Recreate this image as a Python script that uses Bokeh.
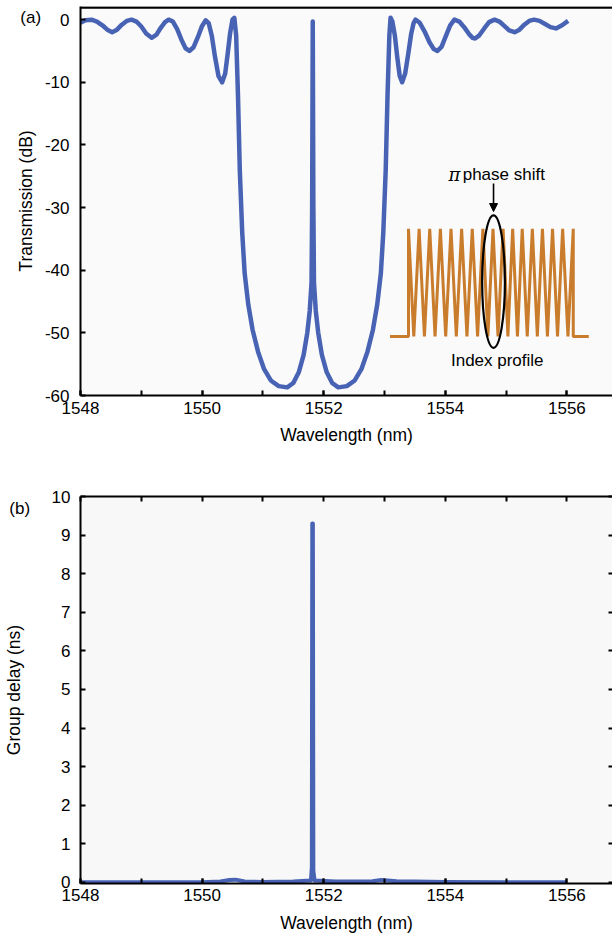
from bokeh.plotting import figure
from bokeh.models import (Range1d, LinearAxis, SingleIntervalTicker,
                          Label, Arrow, NormalHead, PrintfTickFormatter)
from bokeh.layouts import column
from bokeh.embed import file_html
from bokeh.resources import INLINE

FONT = "Liberation Sans"
BLUE = "#4863b4"
ORANGE = "#c97d2c"

# ---------------- data ----------------
# (a) transmission spectrum
wl_t = [1548.00, 1548.08, 1548.18, 1548.27, 1548.36, 1548.44, 1548.52, 1548.60,
        1548.68, 1548.76, 1548.84, 1548.92, 1549.00, 1549.08, 1549.17, 1549.25,
        1549.32, 1549.39, 1549.45, 1549.52, 1549.59, 1549.66, 1549.73, 1549.79,
        1549.86, 1549.93, 1550.00, 1550.06, 1550.11, 1550.16, 1550.21, 1550.27,
        1550.33, 1550.38, 1550.42, 1550.46, 1550.50, 1550.53, 1550.56, 1550.59,
        1550.62, 1550.66, 1550.70, 1550.76, 1550.83, 1550.92, 1551.02, 1551.13,
        1551.26, 1551.40, 1551.50, 1551.59, 1551.67, 1551.73, 1551.77, 1551.800,
        1551.810, 1551.815, 1551.820, 1551.825, 1551.830, 1551.840, 1551.87, 1551.91,
        1551.97, 1552.05, 1552.14, 1552.24, 1552.38, 1552.51, 1552.62, 1552.72,
        1552.81, 1552.88, 1552.94, 1552.98, 1553.02, 1553.05, 1553.08, 1553.10,
        1553.13, 1553.17, 1553.21, 1553.25, 1553.29, 1553.34, 1553.39, 1553.44,
        1553.48, 1553.51, 1553.58, 1553.66, 1553.74, 1553.81, 1553.87, 1553.94,
        1554.01, 1554.08, 1554.15, 1554.23, 1554.31, 1554.39, 1554.45, 1554.49,
        1554.56, 1554.64, 1554.72, 1554.81, 1554.89, 1554.97, 1555.05, 1555.14,
        1555.22, 1555.30, 1555.38, 1555.46, 1555.55, 1555.64, 1555.73, 1555.82,
        1555.92, 1556.02]
trans_db = [-0.5, -0.1, 0.0, -0.3, -0.9, -1.6, -2.0, -1.6,
            -0.8, -0.2, 0.0, -0.3, -1.1, -2.2, -2.9, -2.4,
            -1.3, -0.4, 0.0, -0.3, -1.5, -3.2, -4.6, -5.0,
            -4.4, -2.8, -1.0, -0.1, -0.6, -2.6, -5.8, -9.0,
            -10.0, -8.6, -5.5, -2.2, 0.0, 0.3, -2.5, -12.0,
            -24.0, -34.0, -40.5, -45.5, -49.5, -53.0, -55.8, -57.6,
            -58.5, -58.7, -58.0, -56.3, -53.5, -50.0, -46.5, -42.0,
            -30.0, -15.0, -0.3, -15.0, -30.0, -42.0, -46.5, -50.0,
            -53.5, -56.3, -58.0, -58.7, -58.5, -57.6, -55.8, -53.0,
            -49.5, -45.5, -40.5, -34.0, -24.0, -12.0, -2.5, 0.3,
            -0.3, -2.5, -6.0, -9.0, -10.0, -8.6, -5.5, -2.2,
            -0.5, 0.0, -0.5, -1.9, -3.6, -4.7, -5.0, -4.3,
            -2.6, -0.9, 0.0, -0.3, -1.2, -2.3, -2.9, -3.0,
            -2.5, -1.4, -0.4, 0.0, -0.3, -1.0, -1.7, -2.0,
            -1.6, -0.8, -0.2, 0.0, -0.2, -0.7, -1.2, -1.4,
            -0.9, -0.2]

# (b) group delay
wl_g = [1548.0, 1549.0, 1550.0, 1550.3, 1550.45, 1550.55, 1550.7, 1551.0,
        1551.5, 1551.79, 1551.805, 1551.812, 1551.822, 1551.83, 1551.85, 1552.2,
        1552.8, 1552.95, 1553.05, 1553.2, 1553.5, 1554.0, 1555.0, 1556.0]
delay_ns = [0.0, 0.0, 0.0, 0.02, 0.06, 0.07, 0.02, 0.01,
            0.02, 0.05, 0.4, 9.3, 9.3, 0.3, 0.05, 0.02,
            0.03, 0.06, 0.05, 0.03, 0.02, 0.01, 0.0, 0.0]

# inset: schematic index profile (grating position in periods, normalised index)
grating_z = [-1.74, 0.0, 0.0, 0.5, 1.0, 1.5, 2.0, 2.5, 3.0, 3.5, 4.0, 4.5, 5.0,
             5.5, 6.0, 6.5, 7.0, 7.47, 7.95, 8.42, 8.9, 9.35, 9.8, 10.25, 10.7,
             11.17, 11.65, 12.12, 12.6, 13.07, 13.55, 14.02, 14.5, 15.0, 15.5,
             15.5, 16.96]
index_n = [0, 0, 1, 0, 1, 0, 1, 0, 1, 0, 1, 0, 1,
           0, 1, 0, 1, 0, 1, 0, 1, 0, 1, 0, 1,
           0, 1, 0, 1, 0, 1, 0, 1, 0, 1,
           0, 0]

x_ticks_major = 2
y_ticks_a = 10
y_ticks_b = 1


def base_axis(ax, font_size="17px"):
    ax.axis_line_color = "black"
    ax.axis_line_width = 2
    ax.major_tick_line_color = "black"
    ax.major_tick_line_width = 2
    ax.minor_tick_line_color = "black"
    ax.minor_tick_line_width = 2
    ax.major_label_text_font = FONT
    ax.major_label_text_font_size = font_size
    ax.major_label_text_color = "black"
    ax.axis_label_text_font = FONT
    ax.axis_label_text_font_size = "17.5px"
    ax.axis_label_text_font_style = "normal"
    ax.axis_label_text_color = "black"


def blank_axis(ax):
    ax.major_label_text_font_size = "0px"
    ax.major_label_standoff = 0
    ax.axis_label_standoff = 0


# ---------------- (a) ----------------
pa = figure(width=612, height=470, x_range=Range1d(1548, 1556.75),
            y_range=Range1d(-60, 2.1), output_backend="svg", toolbar_location=None,
            min_border_left=74, min_border_right=0, min_border_top=6,
            min_border_bottom=75, background_fill_color="#fafafa",
            border_fill_color="white")
pa.outline_line_color = None
pa.xgrid.visible = False
pa.ygrid.visible = False

xa = pa.xaxis[0]
base_axis(xa)
xa.ticker = SingleIntervalTicker(interval=x_ticks_major, num_minor_ticks=2)
xa.formatter = PrintfTickFormatter(format="%d")
xa.major_tick_in = 5
xa.major_tick_out = 0
xa.minor_tick_in = 5
xa.minor_tick_out = 0
xa.major_label_standoff = 6
xa.axis_label = "Wavelength (nm)"
xa.axis_label_standoff = 8

ya = pa.yaxis[0]
base_axis(ya)
ya.ticker = SingleIntervalTicker(interval=y_ticks_a, num_minor_ticks=0)
ya.formatter = PrintfTickFormatter(format="%d")
ya.major_tick_in = 5
ya.major_tick_out = 0
ya.minor_tick_in = 0
ya.minor_tick_out = 0
ya.major_label_standoff = 11
ya.axis_label = "Transmission (dB)"
ya.axis_label_standoff = 6

# top border of panel (a): a horizontal span glyph just inside the frame top
pa.hspan(y=[pa.y_range.end - 0.2], line_color="black", line_width=2.5)

pa.line(wl_t, trans_db, line_color=BLUE, line_width=4.5, line_join="round")

# inset (own coordinate system)
pa.extra_x_ranges = {"ix": Range1d(-30.85, 19.19)}
pa.extra_y_ranges = {"iy": Range1d(-0.548, 3.064)}
pa.line(grating_z, index_n, line_color=ORANGE, line_width=3,
        x_range_name="ix", y_range_name="iy")
pa.ellipse(x=[8.0], y=[0.51], width=2.14, height=1.23, fill_color=None,
           line_color="black", line_width=2.2, x_range_name="ix", y_range_name="iy")
pa.add_layout(Arrow(x_start=8.0, y_start=1.42, x_end=8.0, y_end=1.16,
                    x_range_name="ix", y_range_name="iy", line_width=1.6,
                    line_color="black",
                    end=NormalHead(size=8, fill_color="black", line_color="black")))
pa.add_layout(Label(x=4.31, y=1.50, x_range_name="ix", y_range_name="iy",
                    text="π", text_font="DejaVu Serif", text_font_style="italic",
                    text_font_size="18px", text_align="center",
                    text_baseline="middle", text_color="black"))
pa.add_layout(Label(x=5.1, y=1.50, x_range_name="ix", y_range_name="iy",
                    text="phase shift", text_font=FONT, text_font_size="17px",
                    text_align="left", text_baseline="middle", text_color="black"))
pa.add_layout(Label(x=8.35, y=-0.22, x_range_name="ix", y_range_name="iy",
                    text="Index profile", text_font=FONT, text_font_size="17px",
                    text_align="center", text_baseline="middle", text_color="black"))
# panel tag: kept in a side panel (not clipped to the frame), drawn at data position
pa.add_layout(Label(x=1547.01, y=0.35, text="(a)", text_font=FONT,
                    text_font_size="17px", text_align="left",
                    text_baseline="middle", text_color="black"), "below")

# ---------------- (b) ----------------
pb = figure(width=612, height=471, x_range=Range1d(1548, 1556.75),
            y_range=Range1d(-0.03, 10), output_backend="svg", toolbar_location=None,
            min_border_left=75, min_border_right=0, min_border_top=26,
            min_border_bottom=58, background_fill_color="#f8f8f8",
            border_fill_color="white")
pb.outline_line_color = None
pb.xgrid.visible = False
pb.ygrid.visible = False

xb = pb.xaxis[0]
base_axis(xb)
xb.ticker = SingleIntervalTicker(interval=x_ticks_major, num_minor_ticks=2)
xb.formatter = PrintfTickFormatter(format="%d")
xb.major_tick_in = 5
xb.major_tick_out = 0
xb.minor_tick_in = 5
xb.minor_tick_out = 0
xb.major_label_standoff = 5
xb.axis_label = "Wavelength (nm)"
xb.axis_label_standoff = 9

yb = pb.yaxis[0]
base_axis(yb)
yb.ticker = SingleIntervalTicker(interval=y_ticks_b, num_minor_ticks=0)
yb.formatter = PrintfTickFormatter(format="%d")
yb.major_tick_in = 5
yb.major_tick_out = 0
yb.minor_tick_in = 0
yb.minor_tick_out = 0
yb.major_label_standoff = 10
yb.axis_label = "Group delay (ns)"
yb.axis_label_standoff = 25

top_b = LinearAxis(ticker=SingleIntervalTicker(interval=1, num_minor_ticks=0))
base_axis(top_b)
blank_axis(top_b)
top_b.major_tick_in = 5
top_b.major_tick_out = 0
top_b.minor_tick_in = 0
top_b.minor_tick_out = 0
pb.add_layout(top_b, "above")

right_b = LinearAxis(ticker=SingleIntervalTicker(interval=y_ticks_b, num_minor_ticks=0))
base_axis(right_b)
blank_axis(right_b)
right_b.axis_line_color = None
right_b.major_tick_in = 4
right_b.major_tick_out = 0
right_b.minor_tick_in = 0
right_b.minor_tick_out = 0
pb.add_layout(right_b, "right")

pb.line(wl_g, delay_ns, line_color=BLUE, line_width=4, line_join="round")
pb.add_layout(Label(x=1546.83, y=9.69, text="(b)", text_font=FONT,
                    text_font_size="17px", text_align="left",
                    text_baseline="middle", text_color="black"), "above")

layout = column(pa, pb, spacing=0)
open("out.html", "w").write(file_html(layout, INLINE))
